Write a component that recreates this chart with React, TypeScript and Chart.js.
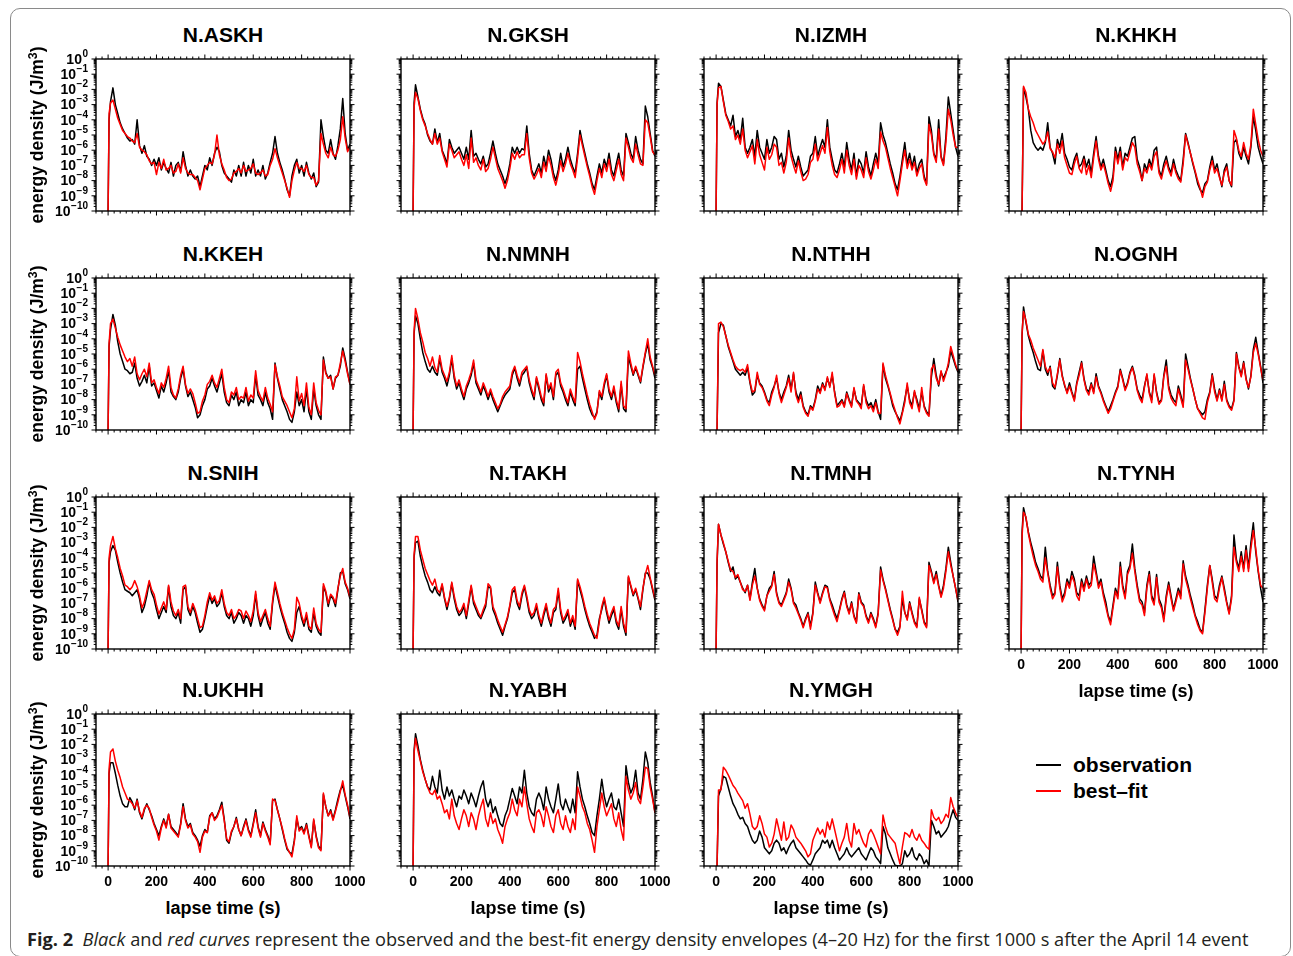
import React, { useEffect, useRef } from "react";
import { Chart, registerables } from "chart.js";
Chart.register(...registerables);

// lapse time grid (s)
const T = [0, 4, 10, 20, 30, 40, 50, 60, 70, 80, 90, 100,
  110, 120, 130, 140, 150, 160, 170, 180, 190, 200,
  210, 220, 230, 240, 250, 260, 270, 280, 290, 300,
  310, 320, 330, 340, 350, 360, 370, 380, 390, 400,
  410, 420, 430, 440, 450, 460, 470, 480, 490, 500,
  510, 520, 530, 540, 550, 560, 570, 580, 590, 600,
  610, 620, 630, 640, 650, 660, 670, 680, 690, 700,
  710, 720, 730, 740, 750, 760, 770, 780, 790, 800,
  810, 820, 830, 840, 850, 860, 870, 880, 890, 900,
  910, 920, 930, 940, 950, 960, 970, 980, 990, 1000];

// log10 of energy density (J/m^3), observation and best-fit, per station
const ASKH_OBS = [-10, -4.0,
  -2.8, -1.9, -3.0, -3.6, -4.2, -4.6, -4.9, -5.2, -5.4, -5.3,
  -5.6, -4.0, -5.7, -6.2, -5.7, -6.4, -6.6, -7.0, -6.6, -7.0,
  -6.5, -7.3, -6.8, -7.2, -7.5, -6.8, -7.7, -7.0, -6.8, -7.4,
  -6.1, -7.0, -7.7, -7.3, -7.7, -7.9, -7.7, -8.4, -7.7, -7.0,
  -7.3, -6.5, -7.0, -6.2, -5.8, -6.1, -7.0, -7.5, -7.7, -7.9,
  -8.1, -7.3, -7.7, -7.0, -7.7, -6.8, -7.7, -7.0, -7.5, -6.6,
  -7.7, -7.3, -7.7, -7.0, -7.9, -7.5, -6.8, -6.2, -5.1, -6.2,
  -6.8, -7.3, -7.9, -8.6, -9.0, -7.7, -7.0, -6.6, -7.5, -7.0,
  -7.7, -6.8, -7.5, -7.9, -7.5, -8.4, -8.1, -4.0, -5.1, -6.0,
  -6.2, -5.3, -6.2, -6.6, -5.7, -4.6, -2.6, -4.9, -6.0, -5.6];
const ASKH_FIT = [-10, -3.6,
  -2.9, -2.7, -3.3, -3.9, -4.3, -4.7, -4.9, -5.1, -5.2, -5.4,
  -5.5, -4.9, -5.8, -6.0, -6.1, -6.3, -6.7, -6.9, -6.8, -7.6,
  -6.8, -7.2, -6.6, -7.3, -7.2, -7.0, -7.5, -7.4, -6.9, -7.5,
  -6.5, -7.2, -7.5, -7.6, -7.6, -7.8, -8.0, -8.6, -7.9, -7.2,
  -7.0, -6.8, -6.9, -6.3, -5.0, -6.3, -6.9, -7.3, -7.8, -8.0,
  -7.9, -7.5, -7.4, -7.2, -7.5, -7.0, -7.4, -7.3, -7.2, -6.9,
  -7.5, -7.6, -7.5, -7.3, -7.7, -7.6, -7.0, -6.6, -5.9, -6.5,
  -7.0, -7.5, -8.0, -8.5, -9.1, -8.0, -7.3, -6.8, -7.2, -7.2,
  -7.4, -7.0, -7.6, -7.8, -7.8, -8.3, -8.0, -4.9, -5.6, -6.2,
  -6.5, -5.8, -6.3, -6.4, -6.0, -5.3, -3.8, -5.2, -6.1, -5.8];

const GKSH_OBS = [-10, -2.9,
  -1.7, -2.5, -3.3, -3.9, -4.3, -5.0, -5.4, -5.6, -4.6, -5.5,
  -4.9, -6.0, -6.4, -6.9, -5.3, -5.8, -6.2, -6.0, -5.8, -6.2,
  -6.6, -5.8, -6.6, -4.7, -6.4, -6.2, -6.6, -6.9, -6.4, -7.1,
  -6.9, -6.2, -5.4, -6.2, -6.9, -7.3, -7.7, -8.2, -7.7, -6.9,
  -5.8, -6.2, -5.8, -6.2, -5.9, -6.0, -4.4, -6.2, -7.3, -7.7,
  -7.3, -6.9, -7.5, -6.4, -7.1, -6.0, -6.6, -7.5, -8.0, -7.3,
  -6.2, -7.1, -6.6, -5.8, -6.6, -7.1, -7.5, -6.2, -4.7, -5.5,
  -6.2, -6.9, -7.5, -8.2, -8.6, -7.7, -6.9, -7.5, -6.6, -7.1,
  -6.2, -7.3, -7.7, -6.9, -6.2, -7.3, -7.7, -4.9, -5.5, -6.2,
  -6.6, -5.1, -6.0, -6.6, -6.9, -3.1, -3.8, -4.9, -6.0, -6.4];
const GKSH_FIT = [-10, -3.2,
  -2.2, -2.6, -3.4, -4.0, -4.4, -4.9, -5.3, -5.6, -4.9, -5.6,
  -5.2, -6.1, -6.6, -7.1, -5.6, -6.0, -6.5, -6.3, -6.1, -6.6,
  -7.0, -6.3, -7.2, -5.2, -6.8, -6.5, -7.0, -7.3, -6.6, -7.4,
  -7.2, -6.6, -5.8, -6.5, -7.2, -7.6, -8.0, -8.5, -8.0, -7.2,
  -6.2, -6.6, -6.1, -6.5, -6.3, -6.3, -4.9, -6.5, -7.5, -7.9,
  -7.6, -7.2, -7.8, -6.8, -7.4, -6.4, -7.0, -7.8, -8.3, -7.6,
  -6.7, -7.4, -6.9, -6.2, -6.9, -7.3, -7.8, -6.5, -5.0, -5.7,
  -6.4, -7.1, -7.7, -8.4, -8.9, -8.0, -7.2, -7.8, -6.9, -7.4,
  -6.6, -7.6, -8.0, -7.3, -6.6, -7.6, -8.0, -5.2, -5.8, -6.5,
  -6.8, -5.6, -6.3, -6.9, -7.0, -4.0, -4.2, -5.1, -6.1, -6.3];

const IZMH_OBS = [-10, -2.9,
  -1.6, -1.8, -2.7, -3.6, -4.0, -4.4, -3.7, -5.1, -4.7, -5.3,
  -3.9, -5.8, -6.2, -5.8, -5.3, -6.4, -4.7, -5.8, -6.2, -6.6,
  -5.3, -6.2, -5.8, -5.1, -5.3, -6.6, -6.2, -7.1, -6.4, -4.7,
  -6.0, -6.6, -7.1, -6.4, -7.1, -7.7, -7.5, -7.3, -6.4, -6.2,
  -5.1, -6.4, -5.8, -5.3, -5.8, -4.0, -5.8, -6.6, -7.3, -7.5,
  -6.9, -6.2, -7.1, -5.5, -6.6, -7.3, -6.2, -7.7, -6.6, -6.9,
  -7.5, -6.1, -7.1, -7.7, -6.9, -6.2, -6.9, -4.2, -5.0, -5.5,
  -6.2, -6.9, -7.5, -8.2, -8.6, -7.7, -6.6, -5.5, -6.9, -6.2,
  -7.1, -6.4, -7.5, -6.9, -6.6, -7.7, -8.2, -3.8, -4.7, -6.2,
  -6.6, -4.0, -6.4, -6.9, -5.1, -2.5, -3.6, -4.7, -5.8, -6.4];
const IZMH_FIT = [-10, -3.0,
  -1.9, -1.8, -2.8, -3.7, -4.1, -4.6, -4.4, -5.3, -5.0, -5.6,
  -4.6, -6.0, -6.5, -6.1, -5.7, -6.9, -5.3, -6.3, -6.8, -7.3,
  -5.8, -6.6, -6.3, -5.6, -5.8, -7.0, -6.8, -7.5, -6.8, -5.2,
  -6.4, -7.0, -7.5, -6.7, -7.4, -8.0, -7.9, -7.6, -6.8, -6.6,
  -5.6, -6.7, -6.2, -5.7, -6.2, -4.5, -6.1, -7.0, -7.6, -7.8,
  -7.3, -6.6, -7.5, -6.0, -7.0, -7.6, -6.6, -7.9, -7.0, -7.3,
  -7.8, -6.5, -7.4, -7.9, -7.3, -6.6, -7.2, -4.8, -5.4, -5.8,
  -6.5, -7.2, -7.8, -8.4, -9.0, -8.0, -6.9, -6.0, -7.2, -6.6,
  -7.3, -6.8, -7.7, -7.2, -6.9, -7.9, -8.3, -4.3, -5.0, -6.3,
  -6.8, -4.6, -6.5, -7.0, -5.5, -3.3, -4.0, -5.0, -5.8, -5.8];

const KHKH_OBS = [-10, -10,
  -1.9, -2.5, -3.3, -4.7, -5.5, -5.8, -6.0, -5.8, -6.0, -5.5,
  -4.2, -5.8, -6.2, -6.9, -5.3, -5.8, -4.9, -6.2, -6.6, -7.1,
  -7.3, -6.6, -6.2, -7.1, -6.9, -6.4, -7.1, -6.6, -7.5, -6.2,
  -5.1, -6.4, -7.1, -6.6, -7.3, -8.0, -8.4, -7.7, -5.8, -6.6,
  -5.8, -7.1, -6.2, -6.4, -5.8, -5.2, -5.1, -6.6, -7.1, -8.0,
  -6.9, -7.3, -6.6, -7.1, -6.0, -5.8, -7.3, -7.7, -6.9, -6.4,
  -7.1, -7.5, -6.6, -7.3, -7.7, -8.0, -6.6, -4.9, -5.5, -6.2,
  -6.9, -7.5, -8.2, -8.6, -8.8, -8.2, -8.0, -7.1, -6.4, -7.3,
  -6.9, -7.7, -8.4, -7.3, -6.9, -8.0, -8.4, -5.5, -5.3, -6.2,
  -6.6, -5.8, -6.4, -6.9, -5.8, -3.8, -4.7, -5.8, -6.4, -6.9];
const KHKH_FIT = [-10, -10,
  -1.8, -2.2, -3.3, -3.8, -4.2, -4.7, -5.0, -5.3, -5.6, -5.4,
  -4.8, -5.9, -6.1, -6.5, -5.6, -6.2, -5.4, -6.5, -7.0, -7.5,
  -7.6, -6.9, -6.4, -7.2, -7.5, -6.6, -7.6, -7.0, -7.8, -6.5,
  -5.4, -6.6, -7.3, -6.9, -7.5, -8.2, -8.7, -8.0, -6.1, -6.9,
  -6.1, -7.3, -6.5, -6.7, -6.1, -5.5, -5.8, -6.9, -7.4, -8.0,
  -7.2, -7.5, -6.9, -7.3, -6.4, -6.1, -7.5, -7.9, -7.2, -6.7,
  -7.3, -7.7, -6.9, -7.5, -7.9, -8.1, -6.9, -5.0, -5.6, -6.2,
  -6.8, -7.4, -8.0, -8.5, -9.1, -8.4, -8.1, -7.3, -6.7, -7.5,
  -7.2, -7.8, -8.3, -7.5, -7.1, -8.0, -8.3, -4.7, -5.2, -6.0,
  -6.4, -5.5, -6.2, -6.6, -5.6, -3.3, -4.3, -5.3, -6.0, -6.4];

const KKEH_OBS = [-10, -4.5,
  -3.4, -2.4, -3.1, -4.2, -5.0, -5.5, -6.0, -6.1, -6.3, -6.2,
  -5.6, -6.6, -7.1, -6.8, -6.4, -6.9, -5.8, -7.1, -6.9, -7.4,
  -7.9, -7.1, -7.5, -6.9, -6.1, -7.5, -7.8, -8.0, -7.5, -6.6,
  -6.0, -7.1, -7.8, -7.5, -8.0, -8.5, -9.2, -9.0, -8.4, -8.0,
  -7.3, -7.1, -6.6, -7.1, -7.5, -6.9, -6.3, -7.5, -8.2, -8.4,
  -7.7, -8.0, -7.5, -8.4, -8.0, -8.2, -7.5, -8.4, -8.0, -8.2,
  -6.4, -7.7, -8.0, -8.4, -7.5, -8.2, -8.6, -9.3, -5.6, -6.6,
  -7.3, -8.0, -8.4, -8.8, -9.3, -9.5, -8.8, -7.5, -8.4, -8.0,
  -8.8, -7.3, -8.8, -9.3, -7.3, -8.4, -9.0, -9.3, -5.2, -6.2,
  -6.6, -6.4, -7.3, -6.6, -6.4, -5.8, -4.6, -5.3, -6.2, -7.0];
const KKEH_FIT = [-10, -4.3,
  -3.0, -2.7, -3.3, -3.9, -4.4, -4.8, -5.2, -5.5, -5.3, -5.8,
  -5.2, -6.3, -6.7, -6.3, -6.0, -6.5, -5.6, -6.9, -6.7, -7.2,
  -7.6, -6.9, -7.2, -6.6, -5.8, -7.2, -7.7, -7.9, -7.3, -6.4,
  -5.8, -7.0, -7.6, -7.3, -7.6, -8.2, -8.9, -8.8, -8.1, -7.7,
  -7.0, -6.8, -6.4, -6.9, -7.2, -6.6, -6.0, -7.2, -8.0, -8.2,
  -7.5, -7.7, -7.2, -8.0, -7.8, -7.9, -7.2, -8.1, -7.7, -7.9,
  -6.1, -7.4, -7.8, -8.1, -7.2, -7.9, -8.3, -8.8, -5.7, -6.5,
  -7.1, -7.8, -8.1, -8.4, -8.8, -9.2, -8.6, -6.5, -8.1, -7.6,
  -8.4, -6.9, -8.5, -9.0, -6.9, -8.2, -8.7, -9.0, -5.4, -6.3,
  -6.6, -6.5, -7.3, -6.5, -6.4, -5.6, -4.8, -5.5, -6.3, -7.0];

const NMNH_OBS = [-10, -3.7,
  -2.5, -3.0, -4.0, -4.9, -5.5, -6.0, -6.2, -5.8, -6.2, -6.4,
  -5.3, -6.2, -6.6, -7.1, -6.4, -5.3, -6.6, -7.3, -6.9, -7.5,
  -8.0, -7.3, -6.9, -6.4, -5.6, -6.9, -7.3, -7.7, -7.1, -7.5,
  -8.0, -7.5, -8.0, -8.4, -8.8, -8.4, -8.0, -7.7, -7.5, -7.3,
  -6.4, -5.9, -6.6, -7.1, -6.4, -6.2, -5.9, -6.9, -7.5, -8.0,
  -6.6, -7.3, -8.0, -8.4, -6.4, -7.5, -7.1, -8.0, -6.4, -6.2,
  -7.1, -7.5, -8.0, -8.4, -7.5, -8.0, -8.4, -6.0, -5.8, -6.6,
  -7.3, -8.0, -8.6, -9.0, -9.2, -8.8, -7.5, -8.0, -7.1, -6.4,
  -7.5, -8.0, -7.3, -8.2, -8.8, -7.0, -8.6, -8.8, -5.2, -5.8,
  -6.4, -5.9, -6.4, -6.9, -5.9, -5.0, -4.3, -5.4, -5.9, -6.6];
const NMNH_FIT = [-10, -3.5,
  -2.0, -2.7, -3.6, -4.2, -4.9, -5.3, -5.8, -5.2, -5.9, -6.2,
  -5.1, -6.0, -6.4, -6.8, -6.2, -5.1, -6.4, -7.1, -6.7, -7.3,
  -7.8, -7.1, -6.7, -6.2, -5.4, -6.7, -7.1, -7.5, -6.9, -7.3,
  -7.8, -7.3, -7.8, -8.2, -8.6, -8.3, -7.8, -7.5, -7.3, -7.1,
  -6.2, -5.8, -6.4, -6.9, -6.2, -6.0, -5.8, -6.7, -7.3, -7.8,
  -6.5, -7.1, -7.8, -8.2, -6.3, -7.3, -6.9, -7.8, -6.2, -6.0,
  -6.9, -7.3, -7.8, -8.2, -7.3, -7.8, -8.2, -4.9, -5.5, -6.3,
  -7.0, -7.7, -8.3, -8.8, -9.3, -8.9, -7.4, -7.8, -6.9, -6.3,
  -7.3, -7.8, -7.1, -8.0, -8.6, -6.8, -8.4, -8.6, -4.8, -5.6,
  -6.3, -5.8, -6.3, -6.8, -5.8, -4.9, -4.0, -5.2, -5.8, -6.4];

const NTHH_OBS = [-10, -10,
  -3.6, -3.0, -3.1, -3.8, -4.5, -5.0, -5.5, -6.0, -6.2, -6.4,
  -6.2, -6.4, -5.9, -6.9, -7.7, -7.5, -6.4, -6.9, -7.1, -7.5,
  -8.0, -8.2, -7.5, -7.1, -6.6, -7.5, -8.0, -7.5, -7.1, -6.4,
  -7.3, -6.3, -7.5, -8.0, -7.5, -8.4, -8.8, -9.0, -8.4, -8.6,
  -8.0, -7.1, -7.5, -6.9, -7.3, -6.6, -7.1, -6.4, -7.5, -8.4,
  -8.2, -8.0, -8.4, -7.5, -8.0, -8.4, -7.3, -8.0, -8.2, -8.4,
  -7.1, -8.0, -8.4, -8.2, -8.6, -8.0, -8.8, -9.3, -5.7, -6.6,
  -7.1, -7.7, -8.4, -8.8, -9.1, -9.4, -8.8, -8.0, -7.1, -8.0,
  -8.4, -7.5, -8.0, -8.6, -7.5, -8.4, -8.8, -9.0, -6.5, -5.3,
  -6.4, -7.1, -6.2, -6.6, -6.2, -5.8, -4.8, -5.3, -5.8, -6.2];
const NTHH_FIT = [-10, -10,
  -3.0, -2.9, -3.2, -3.8, -4.4, -4.9, -5.4, -5.8, -6.0, -6.1,
  -6.0, -6.2, -5.7, -6.8, -7.5, -7.4, -6.2, -7.0, -7.2, -7.6,
  -8.1, -8.4, -7.7, -7.2, -6.4, -7.6, -8.2, -7.7, -7.2, -6.6,
  -7.5, -6.2, -7.7, -8.2, -7.7, -8.5, -8.9, -9.1, -8.5, -8.7,
  -8.1, -7.3, -7.6, -7.0, -7.4, -6.5, -7.2, -6.2, -7.6, -8.5,
  -8.4, -8.1, -8.5, -7.6, -8.1, -8.5, -7.2, -8.1, -8.3, -8.6,
  -7.0, -8.2, -8.6, -8.4, -8.8, -8.2, -8.9, -8.9, -5.6, -6.4,
  -7.0, -7.6, -8.2, -8.7, -9.2, -9.6, -8.9, -8.2, -6.9, -8.2,
  -8.6, -7.4, -8.2, -8.8, -7.2, -8.5, -8.9, -9.1, -6.0, -5.7,
  -6.6, -7.0, -6.1, -6.8, -6.3, -5.6, -4.5, -5.1, -5.7, -6.1];

const OGNH_OBS = [-10, -3.8,
  -1.9, -2.9, -3.8, -4.4, -4.9, -5.5, -6.0, -6.1, -4.8, -6.0,
  -6.4, -5.8, -7.1, -7.3, -6.4, -5.3, -6.4, -7.1, -7.5, -6.9,
  -7.5, -8.0, -6.9, -6.2, -5.5, -6.6, -7.3, -7.5, -6.9, -7.5,
  -6.3, -7.1, -7.5, -8.0, -8.4, -8.8, -8.4, -8.0, -7.5, -7.1,
  -6.0, -6.6, -7.3, -6.9, -6.2, -5.8, -6.4, -7.3, -7.7, -8.0,
  -7.1, -6.4, -7.5, -8.0, -6.4, -7.5, -8.2, -8.0, -6.4, -5.4,
  -7.1, -7.7, -8.0, -8.2, -7.1, -7.7, -8.4, -5.0, -5.8, -6.6,
  -7.3, -8.0, -8.6, -8.8, -9.0, -8.8, -8.0, -7.5, -6.3, -7.3,
  -8.0, -7.3, -8.0, -6.8, -8.0, -8.4, -8.6, -8.0, -4.9, -5.8,
  -6.4, -5.5, -6.6, -7.3, -6.4, -4.7, -3.9, -4.9, -5.8, -6.9];
const OGNH_FIT = [-10, -3.6,
  -2.2, -2.8, -3.7, -4.1, -4.6, -5.0, -5.4, -5.8, -4.7, -5.8,
  -6.2, -5.9, -6.9, -7.2, -6.3, -5.4, -6.5, -7.0, -7.6, -7.1,
  -7.6, -8.1, -7.0, -6.4, -5.6, -6.7, -7.4, -7.7, -7.0, -7.6,
  -6.5, -7.2, -7.6, -8.1, -8.5, -8.9, -8.6, -8.1, -7.6, -7.2,
  -6.1, -6.7, -7.4, -7.0, -6.3, -5.9, -6.5, -7.4, -7.9, -8.2,
  -7.2, -6.3, -7.6, -8.2, -6.3, -7.6, -8.3, -8.1, -6.5, -5.8,
  -7.3, -7.9, -8.2, -8.4, -7.3, -7.9, -8.5, -5.4, -6.0, -6.7,
  -7.3, -8.0, -8.6, -8.9, -9.2, -9.3, -8.2, -7.6, -6.4, -7.5,
  -8.1, -7.4, -8.1, -7.0, -8.1, -8.5, -8.7, -8.1, -5.0, -5.9,
  -6.5, -5.6, -6.7, -7.2, -6.5, -4.9, -4.3, -5.0, -5.9, -6.7];

const SNIH_OBS = [-10, -4.3,
  -3.6, -3.2, -3.5, -4.3, -5.0, -5.6, -6.1, -6.2, -6.3, -6.5,
  -6.3, -6.1, -6.7, -7.6, -7.2, -6.5, -5.6, -6.3, -6.7, -7.4,
  -8.0, -7.6, -7.2, -7.6, -5.9, -7.2, -7.8, -8.0, -7.6, -8.3,
  -6.1, -5.9, -7.4, -7.8, -7.2, -7.6, -8.3, -8.9, -8.7, -8.0,
  -7.2, -6.5, -7.0, -6.7, -7.2, -7.0, -6.3, -7.2, -7.8, -8.0,
  -7.6, -8.3, -8.0, -7.6, -7.8, -8.3, -7.8, -8.0, -8.5, -7.8,
  -6.4, -7.8, -8.5, -8.0, -7.6, -8.3, -8.7, -7.0, -5.8, -6.5,
  -7.2, -7.8, -8.3, -8.9, -9.3, -9.5, -8.9, -7.6, -7.2, -8.0,
  -8.5, -7.8, -8.7, -8.9, -7.6, -8.5, -8.9, -9.1, -5.9, -6.3,
  -7.2, -6.5, -6.7, -7.2, -6.1, -5.0, -4.9, -5.7, -6.1, -6.7];
const SNIH_FIT = [-10, -4.0,
  -3.2, -2.6, -3.4, -4.0, -4.7, -5.2, -5.8, -5.9, -6.1, -5.9,
  -5.5, -5.9, -6.5, -7.3, -6.9, -6.2, -5.5, -6.1, -6.4, -7.1,
  -7.7, -7.3, -6.9, -7.4, -5.8, -6.9, -7.5, -7.8, -7.4, -8.0,
  -5.9, -5.8, -7.2, -7.6, -7.0, -7.4, -8.0, -8.6, -8.5, -7.8,
  -6.9, -6.3, -6.8, -6.5, -7.0, -6.8, -6.1, -7.0, -7.6, -7.8,
  -7.4, -8.0, -7.8, -7.4, -7.5, -8.0, -7.5, -7.8, -8.2, -7.5,
  -6.2, -7.6, -8.2, -7.8, -7.4, -8.0, -8.5, -6.8, -5.6, -6.3,
  -7.0, -7.6, -8.1, -8.6, -9.0, -9.3, -8.7, -6.6, -7.0, -7.8,
  -8.3, -7.6, -8.5, -8.7, -7.3, -8.3, -8.7, -8.9, -5.7, -6.2,
  -7.0, -6.4, -6.6, -7.0, -6.0, -5.2, -4.7, -5.6, -6.0, -6.6];

const TAKH_OBS = [-10, -4.0,
  -3.0, -2.9, -3.9, -4.6, -5.2, -5.6, -6.1, -6.3, -5.9, -6.3,
  -6.5, -5.8, -6.7, -7.4, -6.7, -5.7, -6.7, -7.4, -7.8, -7.6,
  -7.2, -8.0, -7.0, -5.9, -7.0, -7.4, -7.8, -8.0, -7.6, -7.2,
  -5.9, -6.0, -7.4, -7.8, -8.3, -8.7, -9.1, -8.5, -8.0, -7.2,
  -6.3, -6.1, -7.0, -7.4, -6.5, -5.9, -6.7, -7.6, -8.0, -7.8,
  -7.2, -8.0, -8.5, -7.8, -7.2, -8.0, -8.5, -7.6, -7.4, -6.2,
  -7.6, -8.3, -8.0, -7.6, -8.5, -8.0, -8.7, -5.5, -6.1, -6.7,
  -7.4, -8.0, -8.5, -8.9, -9.3, -9.1, -8.0, -7.4, -6.7, -7.6,
  -8.3, -7.8, -7.4, -8.3, -8.7, -7.4, -8.5, -9.1, -5.3, -5.9,
  -6.5, -6.1, -6.7, -7.4, -6.1, -5.0, -5.0, -5.4, -6.1, -6.8];
const TAKH_FIT = [-10, -3.8,
  -2.6, -2.6, -3.5, -4.1, -4.7, -5.1, -5.5, -5.8, -5.4, -6.1,
  -6.3, -5.7, -6.6, -7.2, -6.6, -5.6, -6.5, -7.2, -7.6, -7.4,
  -7.0, -7.8, -6.8, -5.8, -6.8, -7.2, -7.6, -7.9, -7.4, -7.0,
  -5.7, -5.9, -7.2, -7.6, -8.1, -8.5, -8.9, -8.4, -7.9, -7.1,
  -6.1, -5.9, -6.8, -7.2, -6.3, -5.8, -6.5, -7.4, -7.8, -7.6,
  -7.0, -7.8, -8.3, -7.6, -7.0, -7.8, -8.3, -7.4, -7.2, -6.0,
  -7.4, -8.1, -7.8, -7.4, -8.3, -7.8, -8.5, -5.4, -5.9, -6.5,
  -7.2, -7.8, -8.3, -8.7, -9.1, -9.3, -8.2, -7.2, -6.6, -7.4,
  -8.1, -7.6, -7.2, -8.1, -8.5, -7.2, -8.3, -8.9, -5.2, -5.8,
  -6.4, -6.0, -6.6, -7.2, -6.0, -5.1, -4.5, -5.3, -6.0, -6.7];

const TMNH_OBS = [-10, -4.4,
  -1.8, -2.5, -3.1, -3.6, -4.3, -4.9, -4.6, -5.4, -5.2, -5.6,
  -6.0, -6.3, -5.8, -6.7, -5.6, -4.7, -6.0, -6.7, -7.1, -7.4,
  -6.5, -6.0, -5.8, -4.9, -6.3, -6.9, -7.1, -6.7, -6.3, -5.4,
  -6.0, -6.9, -7.1, -7.6, -8.0, -8.5, -8.0, -7.6, -8.5, -7.6,
  -5.6, -6.3, -6.9, -6.3, -5.8, -5.9, -6.7, -7.1, -7.6, -8.0,
  -7.4, -6.7, -6.2, -7.1, -7.6, -6.9, -7.8, -8.2, -6.3, -6.9,
  -7.1, -7.8, -8.2, -7.6, -8.0, -8.5, -7.6, -4.6, -5.4, -6.0,
  -6.7, -7.4, -8.0, -8.7, -8.9, -8.5, -6.7, -7.6, -8.0, -6.9,
  -7.6, -8.2, -8.5, -6.7, -7.4, -8.2, -8.5, -4.3, -4.9, -5.6,
  -4.9, -5.8, -6.5, -5.8, -4.7, -3.3, -4.3, -5.2, -6.0, -6.9];
const TMNH_FIT = [-10, -4.2,
  -1.8, -2.5, -3.0, -3.6, -4.2, -4.8, -4.9, -5.3, -5.1, -5.6,
  -6.1, -6.2, -5.8, -6.8, -5.8, -5.2, -6.0, -6.8, -7.2, -7.5,
  -6.5, -6.2, -5.9, -5.1, -6.4, -7.0, -7.2, -6.8, -6.4, -5.6,
  -6.1, -7.0, -7.3, -7.7, -8.1, -8.6, -8.1, -7.7, -8.7, -7.7,
  -5.8, -6.4, -7.0, -6.4, -5.9, -6.0, -6.8, -7.3, -7.8, -8.2,
  -7.5, -6.8, -6.3, -7.2, -7.7, -7.0, -7.9, -8.3, -6.4, -7.0,
  -7.2, -7.9, -8.3, -7.7, -8.1, -8.6, -7.7, -4.8, -5.5, -6.1,
  -6.8, -7.5, -8.1, -8.7, -9.1, -8.6, -6.2, -7.6, -8.1, -7.0,
  -7.7, -8.3, -8.6, -6.6, -7.5, -8.3, -8.6, -4.5, -5.0, -5.7,
  -5.1, -5.9, -6.6, -6.0, -4.9, -3.6, -4.5, -5.2, -6.0, -6.8];

const TYNH_OBS = [-10, -2.3,
  -0.7, -1.4, -2.3, -3.0, -3.6, -4.3, -4.7, -5.2, -5.4, -3.3,
  -4.9, -5.8, -6.5, -6.3, -4.3, -5.8, -6.7, -6.3, -5.4, -5.8,
  -4.9, -5.4, -6.3, -6.5, -5.4, -6.0, -5.2, -5.8, -5.6, -3.9,
  -4.9, -5.8, -5.4, -6.3, -6.9, -7.8, -8.2, -7.1, -6.0, -6.5,
  -4.3, -5.8, -6.5, -4.9, -4.5, -3.1, -4.7, -5.8, -6.7, -6.9,
  -7.6, -5.8, -4.9, -6.5, -6.9, -5.1, -6.7, -7.1, -8.0, -6.5,
  -5.6, -6.5, -7.4, -6.7, -6.0, -6.5, -4.2, -5.2, -5.8, -6.5,
  -7.1, -7.8, -8.2, -8.7, -8.9, -7.4, -5.8, -4.5, -5.4, -6.5,
  -6.7, -5.8, -5.2, -6.0, -6.9, -7.6, -6.5, -2.5, -4.1, -4.7,
  -3.6, -4.7, -3.2, -4.7, -3.0, -1.7, -3.6, -4.9, -6.0, -6.9];
const TYNH_FIT = [-10, -2.6,
  -1.0, -1.3, -2.4, -3.2, -3.9, -4.5, -4.9, -5.4, -5.6, -4.0,
  -5.0, -6.0, -6.7, -6.4, -4.6, -6.0, -6.9, -6.5, -5.6, -6.0,
  -5.2, -5.6, -6.5, -6.8, -5.6, -6.2, -5.4, -6.0, -5.8, -4.4,
  -5.1, -6.0, -5.6, -6.5, -7.2, -7.9, -8.4, -7.3, -6.2, -6.7,
  -4.6, -6.0, -6.7, -5.1, -4.7, -3.7, -4.9, -6.0, -6.9, -7.1,
  -7.8, -6.0, -5.1, -6.7, -7.1, -5.3, -6.9, -7.3, -8.2, -6.7,
  -5.8, -6.7, -7.5, -6.9, -6.2, -6.7, -4.4, -5.4, -6.0, -6.7,
  -7.3, -7.9, -8.4, -8.8, -9.0, -7.6, -6.0, -4.5, -5.6, -6.7,
  -6.9, -6.0, -5.3, -6.2, -7.0, -7.7, -6.7, -3.3, -4.3, -4.9,
  -3.9, -4.9, -3.5, -4.9, -3.4, -2.2, -3.4, -4.8, -5.8, -6.0];

const UKHH_OBS = [-10, -3.9,
  -3.2, -3.2, -3.9, -4.7, -5.4, -5.9, -6.1, -6.1, -5.5, -5.8,
  -6.3, -5.6, -6.5, -6.9, -6.3, -5.9, -6.3, -6.7, -7.2, -7.6,
  -8.0, -7.4, -6.9, -7.4, -6.6, -7.4, -7.6, -7.8, -8.0, -7.2,
  -5.9, -6.9, -7.4, -7.2, -7.8, -8.0, -8.3, -8.7, -8.0, -7.6,
  -7.8, -6.7, -6.5, -6.9, -6.7, -6.3, -5.8, -6.9, -8.3, -8.5,
  -7.8, -7.4, -6.8, -7.6, -8.0, -7.4, -6.9, -7.6, -8.0, -7.2,
  -6.3, -7.4, -8.0, -7.1, -7.6, -8.0, -8.5, -5.7, -5.6, -6.3,
  -6.9, -7.6, -8.3, -8.9, -9.1, -9.2, -8.3, -6.9, -7.6, -7.4,
  -7.8, -7.2, -8.0, -8.7, -7.0, -8.0, -8.7, -8.9, -5.3, -6.1,
  -6.7, -6.3, -6.9, -6.3, -5.6, -5.0, -4.7, -5.4, -6.1, -6.9];
const UKHH_FIT = [-10, -3.6,
  -2.5, -2.3, -3.1, -3.7, -4.2, -4.8, -5.2, -5.6, -5.7, -5.9,
  -6.2, -5.7, -6.4, -6.8, -6.2, -6.0, -6.2, -6.8, -7.3, -7.7,
  -8.3, -7.5, -7.0, -7.5, -6.6, -7.5, -7.7, -7.9, -8.1, -7.3,
  -6.1, -7.0, -7.5, -7.3, -7.9, -8.1, -8.4, -9.1, -8.1, -7.7,
  -7.8, -6.8, -6.5, -7.0, -6.8, -6.4, -6.0, -7.0, -8.2, -8.4,
  -7.7, -7.4, -6.9, -7.6, -8.0, -7.5, -7.0, -7.7, -8.1, -7.3,
  -6.5, -7.5, -8.1, -7.2, -7.7, -8.1, -8.6, -5.6, -5.7, -6.3,
  -6.9, -7.5, -8.2, -8.8, -9.1, -9.4, -8.4, -6.7, -7.7, -7.5,
  -7.9, -7.3, -8.1, -8.8, -6.9, -8.1, -8.8, -9.0, -5.2, -6.1,
  -6.7, -6.4, -7.0, -6.4, -5.8, -5.1, -4.4, -5.3, -6.0, -6.8];

const YABH_OBS = [-10, -2.4,
  -1.3, -2.1, -3.0, -3.7, -4.3, -4.8, -5.0, -4.1, -4.8, -5.2,
  -3.7, -5.0, -5.6, -4.8, -5.4, -5.0, -5.6, -6.1, -5.4, -5.6,
  -5.0, -5.4, -5.9, -5.2, -5.6, -6.1, -5.4, -4.8, -4.4, -5.6,
  -6.1, -5.6, -6.5, -6.1, -6.7, -7.2, -7.4, -6.7, -6.3, -5.6,
  -4.9, -5.4, -5.9, -4.8, -5.2, -3.7, -5.2, -6.1, -6.5, -6.7,
  -5.6, -5.2, -5.6, -6.3, -4.8, -5.6, -6.1, -6.5, -5.6, -4.6,
  -5.9, -6.3, -5.6, -6.1, -6.5, -5.6, -6.5, -3.8, -4.8, -5.6,
  -6.1, -6.7, -7.2, -7.8, -8.0, -6.7, -5.6, -4.3, -5.4, -6.1,
  -5.6, -5.2, -6.1, -6.3, -5.6, -6.5, -7.4, -3.4, -4.5, -5.2,
  -4.8, -3.7, -5.2, -5.6, -4.3, -2.5, -3.2, -4.5, -5.4, -6.5];
const YABH_FIT = [-10, -2.6,
  -1.6, -2.4, -3.1, -3.8, -4.3, -4.8, -5.2, -5.3, -5.0, -5.6,
  -5.4, -5.9, -6.5, -6.3, -6.9, -5.6, -6.7, -7.2, -7.6, -6.9,
  -6.3, -6.7, -7.4, -6.5, -6.9, -7.6, -6.7, -6.1, -5.6, -6.9,
  -7.4, -6.5, -7.2, -6.9, -7.6, -8.0, -8.5, -7.4, -6.9, -6.5,
  -5.6, -6.3, -6.7, -5.6, -6.1, -4.8, -5.9, -6.9, -7.4, -7.8,
  -6.5, -6.3, -6.7, -7.4, -6.1, -6.7, -7.4, -7.8, -6.7, -6.3,
  -7.2, -7.6, -6.7, -7.4, -7.8, -6.9, -7.6, -4.8, -5.4, -6.1,
  -6.5, -7.2, -7.6, -8.3, -9.1, -7.4, -6.3, -5.2, -6.1, -6.7,
  -6.3, -5.9, -6.9, -7.4, -6.5, -7.6, -8.3, -4.1, -5.0, -5.6,
  -5.2, -4.5, -5.6, -5.9, -4.8, -3.5, -3.6, -4.8, -5.6, -6.5];

const YMGH_OBS = [-10, -10,
  -5.4, -4.9, -4.1, -4.2, -4.8, -5.4, -5.9, -6.2, -6.6, -6.9,
  -6.8, -7.2, -7.4, -7.9, -8.3, -8.5, -8.3, -7.7, -8.1, -8.8,
  -9.0, -9.2, -9.0, -8.5, -8.3, -8.5, -9.0, -8.8, -9.2, -8.8,
  -8.5, -8.3, -8.8, -9.0, -9.2, -9.4, -9.6, -9.85, -9.95, -9.6,
  -9.2, -9.0, -8.8, -8.3, -8.5, -8.3, -8.8, -8.3, -8.8, -9.2,
  -9.6, -9.4, -9.2, -8.8, -9.2, -9.4, -9.2, -9.0, -8.8, -9.2,
  -9.4, -9.6, -9.2, -8.8, -9.0, -9.4, -9.6, -9.85, -7.4, -7.9,
  -8.8, -9.2, -9.6, -9.95, -10.0, -10.0, -9.85, -9.0, -9.4, -9.2,
  -8.8, -9.4, -9.6, -9.2, -9.4, -9.85, -9.6, -10.0, -7.0, -7.4,
  -7.9, -7.7, -8.1, -7.9, -7.7, -7.4, -6.8, -6.3, -6.8, -7.0];
const YMGH_FIT = [-10, -10,
  -5.0, -5.0, -3.5, -3.7, -4.0, -4.35, -4.7, -4.9, -5.2, -5.45,
  -5.7, -6.2, -5.9, -6.6, -7.4, -7.6, -7.4, -6.7, -7.2, -7.9,
  -8.1, -8.75, -8.5, -7.9, -6.9, -7.6, -8.3, -7.1, -8.3, -8.1,
  -7.3, -7.6, -8.1, -8.3, -8.5, -8.75, -9.0, -9.4, -9.2, -8.3,
  -7.9, -7.5, -7.9, -7.6, -8.1, -7.1, -7.6, -6.9, -7.6, -8.3,
  -9.0, -8.5, -8.1, -7.2, -8.3, -8.75, -7.2, -7.9, -7.6, -8.1,
  -8.5, -8.75, -7.9, -7.6, -7.9, -8.3, -8.75, -9.2, -6.65, -7.4,
  -7.9, -8.1, -8.3, -8.5, -9.2, -9.85, -8.75, -7.8, -7.9, -8.1,
  -7.6, -8.1, -8.3, -7.9, -8.3, -8.5, -8.75, -8.9, -6.3, -6.8,
  -7.0, -6.8, -7.2, -7.0, -6.6, -6.8, -5.5, -6.1, -6.5, -6.8];

const X_TICKS = [0, 200, 400, 600, 800, 1000];
const X_TICK_LABELS = ["0", "200", "400", "600", "800", "1000"];
const Y_TICKS = [1, 1e-1, 1e-2, 1e-3, 1e-4, 1e-5, 1e-6, 1e-7, 1e-8, 1e-9, 1e-10];
const Y_TICK_BASE = "10";
const Y_TICK_EXPONENTS = ["0", "−1", "−2", "−3", "−4", "−5", "−6", "−7", "−8", "−9", "−10"];
const X_MIN = -50;
const X_MAX = 1000;
const X_MINOR_STEP = 25;

const PANELS = [
  { name: "N.ASKH", obs: ASKH_OBS, fit: ASKH_FIT, col: 0, row: 0 },
  { name: "N.GKSH", obs: GKSH_OBS, fit: GKSH_FIT, col: 1, row: 0 },
  { name: "N.IZMH", obs: IZMH_OBS, fit: IZMH_FIT, col: 2, row: 0 },
  { name: "N.KHKH", obs: KHKH_OBS, fit: KHKH_FIT, col: 3, row: 0 },
  { name: "N.KKEH", obs: KKEH_OBS, fit: KKEH_FIT, col: 0, row: 1 },
  { name: "N.NMNH", obs: NMNH_OBS, fit: NMNH_FIT, col: 1, row: 1 },
  { name: "N.NTHH", obs: NTHH_OBS, fit: NTHH_FIT, col: 2, row: 1 },
  { name: "N.OGNH", obs: OGNH_OBS, fit: OGNH_FIT, col: 3, row: 1 },
  { name: "N.SNIH", obs: SNIH_OBS, fit: SNIH_FIT, col: 0, row: 2 },
  { name: "N.TAKH", obs: TAKH_OBS, fit: TAKH_FIT, col: 1, row: 2 },
  { name: "N.TMNH", obs: TMNH_OBS, fit: TMNH_FIT, col: 2, row: 2 },
  { name: "N.TYNH", obs: TYNH_OBS, fit: TYNH_FIT, col: 3, row: 2 },
  { name: "N.UKHH", obs: UKHH_OBS, fit: UKHH_FIT, col: 0, row: 3 },
  { name: "N.YABH", obs: YABH_OBS, fit: YABH_FIT, col: 1, row: 3 },
  { name: "N.YMGH", obs: YMGH_OBS, fit: YMGH_FIT, col: 2, row: 3 },
];

// layout
const COL_LEFT = [96, 401, 704, 1009];
const ROW_TOP = [59, 278, 497, 714];
const PLOT_W = 254;
const PLOT_H = 152;
const ML = 70; // canvas margin left of plot
const MT = 12;
const MR = 30;
const MB = 30;
const CW = ML + PLOT_W + MR;
const CH = MT + PLOT_H + MB;

const FONT = "'Liberation Sans', Arial, Helvetica, sans-serif";
const RED = "#ff0000";

const frameTicks = {
  id: "frameTicks",
  afterDraw(chart: any, _args: any, opts: any) {
    const { ctx, chartArea: a, scales } = chart;
    const xs = scales.x;
    const ys = scales.y;
    ctx.save();
    ctx.strokeStyle = "#000";
    ctx.lineWidth = 1;
    ctx.beginPath();
    for (let v = X_MIN; v <= X_MAX; v += X_MINOR_STEP) {
      const major = X_TICKS.indexOf(v) >= 0;
      const len = major ? 4.5 : 2.5;
      const p = xs.getPixelForValue(v);
      ctx.moveTo(p, a.bottom);
      ctx.lineTo(p, a.bottom + len);
      ctx.moveTo(p, a.top);
      ctx.lineTo(p, a.top - len);
    }
    for (let e = -10; e <= 0; e++) {
      for (let m = 1; m <= 9; m++) {
        if (e === 0 && m > 1) break;
        const p = ys.getPixelForValue(m * Math.pow(10, e));
        const len = m === 1 ? 4.5 : 2.3;
        ctx.moveTo(a.left, p);
        ctx.lineTo(a.left - len, p);
        ctx.moveTo(a.right, p);
        ctx.lineTo(a.right + len, p);
      }
    }
    ctx.stroke();
    ctx.lineWidth = 1.4;
    ctx.strokeRect(a.left, a.top, a.right - a.left, a.bottom - a.top);

    if (opts && opts.showY) {
      ctx.fillStyle = "#000";
      ctx.textBaseline = "middle";
      ctx.textAlign = "right";
      Y_TICKS.forEach((v, i) => {
        const p = ys.getPixelForValue(v);
        const xr = a.left - 8;
        ctx.font = "bold 10px " + FONT;
        const ew = ctx.measureText(Y_TICK_EXPONENTS[i]).width;
        ctx.fillText(Y_TICK_EXPONENTS[i], xr, p - 5);
        ctx.font = "bold 14px " + FONT;
        ctx.fillText(Y_TICK_BASE, xr - ew - 0.5, p + 1);
      });
    }
    ctx.restore();
  },
};

type PanelProps = { name: string; obs: number[]; fit: number[]; col: number; row: number };

function toPoints(vals: number[]) {
  const n = Math.min(vals.length, T.length);
  const pts: { x: number; y: number }[] = [];
  for (let i = 0; i < n; i++) pts.push({ x: T[i], y: Math.pow(10, vals[i]) });
  return pts;
}

function Panel({ name, obs, fit, col, row }: PanelProps) {
  const ref = useRef<HTMLCanvasElement>(null);
  const left = COL_LEFT[col];
  const top = ROW_TOP[row];
  const showX = row === 3 || name === "N.TYNH";
  const showY = col === 0;

  useEffect(() => {
    const canvas = ref.current;
    if (!canvas) return;
    const chart = new Chart(canvas, {
      type: "line",
      data: {
        datasets: [
          {
            label: "best-fit",
            data: toPoints(fit),
            borderColor: RED,
            borderWidth: 1.5,
            pointRadius: 0,
            tension: 0,
            borderJoinStyle: "round",
            fill: false,
          },
          {
            label: "observation",
            data: toPoints(obs),
            borderColor: "#000",
            borderWidth: 1.5,
            pointRadius: 0,
            tension: 0,
            borderJoinStyle: "round",
            fill: false,
          },
        ],
      },
      options: {
        animation: false,
        responsive: false,
        maintainAspectRatio: false,
        events: [],
        parsing: false,
        layout: { padding: { left: 0, top: MT, right: MR, bottom: 0 } },
        plugins: {
          legend: { display: false },
          tooltip: { enabled: false },
          title: { display: false },
          frameTicks: { showY },
        },
        scales: {
          x: {
            type: "linear",
            min: X_MIN,
            max: X_MAX,
            grid: { display: false, drawTicks: false },
            border: { display: false },
            ticks: {
              display: showX,
              padding: 8,
              autoSkip: false,
              maxRotation: 0,
              color: "#000",
              font: { family: FONT, size: 14, weight: "bold" },
              callback: (v: any) => {
                const i = X_TICKS.indexOf(Number(v));
                return i >= 0 ? X_TICK_LABELS[i] : "";
              },
            },
            afterBuildTicks: (s: any) => {
              s.ticks = X_TICKS.map((v) => ({ value: v }));
            },
            afterFit: (s: any) => {
              s.height = MB;
            },
          },
          y: {
            type: "logarithmic",
            min: 1e-10,
            max: 1,
            grid: { display: false, drawTicks: false },
            border: { display: false },
            ticks: { display: false },
            afterBuildTicks: (s: any) => {
              s.ticks = Y_TICKS.map((v) => ({ value: v }));
            },
            afterFit: (s: any) => {
              s.width = ML;
            },
          },
        },
      } as any,
      plugins: [frameTicks],
    });
    return () => chart.destroy();
  }, []);

  return (
    <>
      <canvas
        ref={ref}
        width={CW}
        height={CH}
        style={{ position: "absolute", left: left - ML, top: top - MT, width: CW, height: CH }}
      />
      <div
        style={{
          position: "absolute",
          left,
          top: top - 36,
          width: PLOT_W,
          textAlign: "center",
          fontFamily: FONT,
          fontWeight: "bold",
          fontSize: 21,
          lineHeight: "24px",
          color: "#000",
          whiteSpace: "nowrap",
        }}
      >
        {name}
      </div>
      {showX && (
        <div
          style={{
            position: "absolute",
            left,
            top: top + PLOT_H + 31,
            width: PLOT_W,
            textAlign: "center",
            fontFamily: FONT,
            fontWeight: "bold",
            fontSize: 18,
            lineHeight: "22px",
            color: "#000",
            whiteSpace: "nowrap",
          }}
        >
          lapse time (s)
        </div>
      )}
      {showY && (
        <div
          style={{
            position: "absolute",
            left: 37 - 110,
            top: top + PLOT_H / 2 - 11,
            width: 220,
            height: 22,
            textAlign: "center",
            fontFamily: FONT,
            fontWeight: "bold",
            fontSize: 17.5,
            lineHeight: "22px",
            color: "#000",
            whiteSpace: "nowrap",
            transform: "rotate(-90deg)",
          }}
        >
          energy density (J/m<span style={{ fontSize: "0.7em", position: "relative", top: "-0.5em" }}>3</span>)
        </div>
      )}
    </>
  );
}

export default function App() {
  return (
    <div
      style={{
        position: "absolute",
        left: 0,
        top: 0,
        width: 1293,
        height: 956,
        overflow: "hidden",
        background: "#fff",
      }}
    >
      <div
        style={{
          position: "absolute",
          left: 10,
          top: 8,
          width: 1281,
          height: 949,
          border: "1px solid #8a8a8a",
          borderRadius: 10,
          boxSizing: "border-box",
        }}
      />
      {PANELS.map((p) => (
        <Panel key={p.name} {...p} />
      ))}
      {/* legend */}
      <div style={{ position: "absolute", left: 1036, top: 764, width: 25, height: 2, background: "#000" }} />
      <div
        style={{
          position: "absolute",
          left: 1073,
          top: 752,
          fontFamily: FONT,
          fontWeight: "bold",
          fontSize: 21,
          lineHeight: "26px",
          color: "#000",
          whiteSpace: "nowrap",
        }}
      >
        observation
      </div>
      <div style={{ position: "absolute", left: 1036, top: 790, width: 25, height: 2, background: RED }} />
      <div
        style={{
          position: "absolute",
          left: 1073,
          top: 778,
          fontFamily: FONT,
          fontWeight: "bold",
          fontSize: 21,
          lineHeight: "26px",
          color: "#000",
          whiteSpace: "nowrap",
        }}
      >
        best–fit
      </div>
      {/* caption */}
      <div
        style={{
          position: "absolute",
          left: 27,
          top: 926,
          fontFamily: "'Open Sans', 'Noto Sans', sans-serif",
          fontSize: 18.2,
          lineHeight: "26px",
          color: "#231f20",
          whiteSpace: "nowrap",
        }}
      >
        <b>Fig. 2</b>
        {"\u00a0\u00a0"}
        <i>Black</i> and <i>red curves</i> represent the observed and the best-fit energy density envelopes (4–20 Hz) for
        the first 1000 s after the April 14 event
      </div>
    </div>
  );
}
